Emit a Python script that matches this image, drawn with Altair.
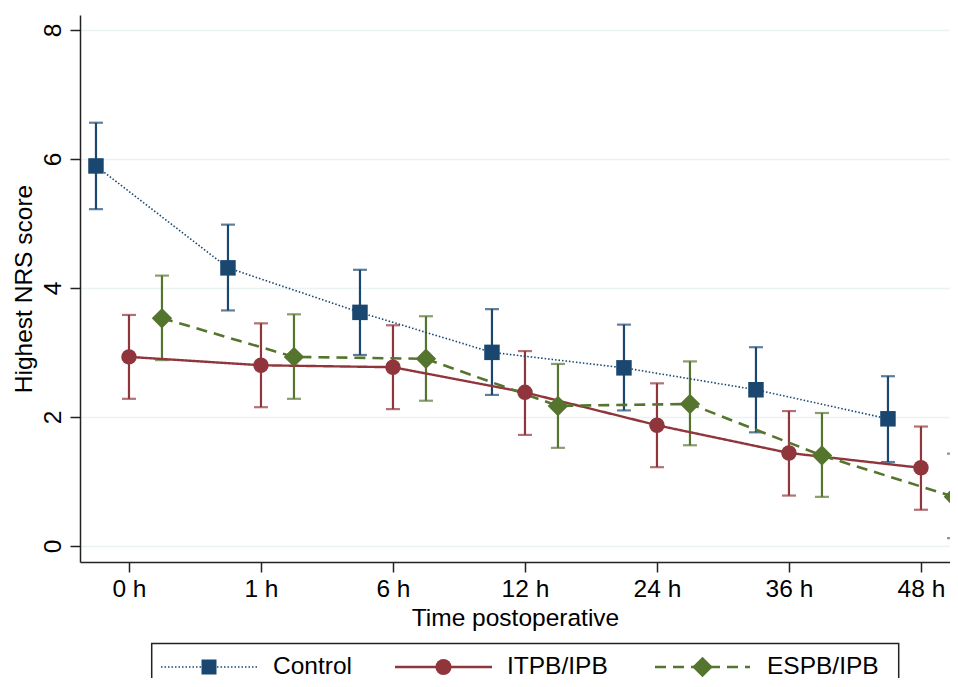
import altair as alt
import pandas as pd

# ---- data ----
times = ["0 h", "1 h", "6 h", "12 h", "24 h", "36 h", "48 h"]
series_names = ["Control", "ITPB/IPB", "ESPB/IPB"]

control_mean = [5.89, 4.31, 3.62, 3.00, 2.76, 2.42, 1.97]
control_lo = [5.22, 3.65, 2.96, 2.34, 2.10, 1.76, 1.30]
control_hi = [6.56, 4.98, 4.28, 3.67, 3.43, 3.08, 2.63]

itpb_mean = [2.93, 2.80, 2.77, 2.38, 1.87, 1.44, 1.21]
itpb_lo = [2.28, 2.15, 2.12, 1.72, 1.22, 0.78, 0.56]
itpb_hi = [3.58, 3.45, 3.42, 3.02, 2.52, 2.09, 1.85]

espb_mean = [3.53, 2.93, 2.90, 2.17, 2.20, 1.40, 0.76]
espb_lo = [2.88, 2.28, 2.25, 1.52, 1.56, 0.76, 0.12]
espb_hi = [4.19, 3.59, 3.56, 2.82, 2.86, 2.06, 1.43]

# ---- styles ----
colors = ["#1a476f", "#90353b", "#55752f"]
shapes = ["square", "circle", "diamond"]
marker_sizes = [240, 240, 420]
dashes = [[1.5, 2], [1, 0], [11, 7]]
line_widths = [1.6, 2.4, 2.6]
dodge = [-0.25, 0.0, 0.25]
FONT = "Liberation Sans"
FS = 24.5

rows = []
for s, (name, m, lo, hi) in enumerate(zip(
        series_names,
        [control_mean, itpb_mean, espb_mean],
        [control_lo, itpb_lo, espb_lo],
        [control_hi, itpb_hi, espb_hi])):
    for i, t in enumerate(times):
        rows.append({"series": name, "time": t, "pos": i + dodge[s],
                     "mean": m[i], "lo": lo[i], "hi": hi[i]})
df = pd.DataFrame(rows)

W, H = 870, 547
label_expr = "[" + ",".join("'%s'" % t for t in times) + "][datum.value]"

x_enc = alt.X(
    "pos:Q",
    scale=alt.Scale(domain=[-0.371, 6.22], nice=False, zero=False),
    axis=alt.Axis(
        values=list(range(len(times))), labelExpr=label_expr,
        title="Time postoperative", grid=False,
        tickSize=10, tickWidth=1.5, tickColor="#222", domainColor="#222", domainWidth=1.5,
        labelFontSize=FS, labelFont=FONT, labelColor="#000", labelPadding=5,
        labelBaseline="top",
        titleFontSize=FS, titleFont=FONT, titleFontWeight="normal", titleColor="#000",
        titleY=63, titleBaseline="alphabetic", labelOverlap=False,
    ),
)
y_scale = alt.Scale(domain=[-0.25, 8.23], nice=False, zero=False)
y_axis = alt.Axis(
    values=[0, 2, 4, 6, 8], format="d", title="Highest NRS score",
    grid=True, gridColor="#eaf2f3", gridWidth=1.5,
    tickSize=10, tickWidth=1.5, tickColor="#222", domainColor="#222", domainWidth=1.5,
    labelFontSize=FS, labelFont=FONT, labelColor="#000", labelAngle=270,
    labelAlign="center", labelBaseline="alphabetic", labelPadding=10, labelOverlap=False,
    titleFontSize=FS, titleFont=FONT, titleFontWeight="normal", titleColor="#000",
    titleAngle=270, titleX=-56, titleY=H / 2, titleAlign="center", titleBaseline="middle",
)

color_enc = alt.Color("series:N", scale=alt.Scale(domain=series_names, range=colors), legend=None)
base = alt.Chart(df)

bars = base.mark_rule(strokeWidth=2.2).encode(
    x=x_enc, y=alt.Y("lo:Q", scale=y_scale, axis=y_axis), y2="hi:Q", color=color_enc)
cap_lo = base.mark_tick(orient="horizontal", size=14, thickness=2.2).encode(
    x=x_enc, y=alt.Y("lo:Q", scale=y_scale), color=color_enc)
cap_hi = base.mark_tick(orient="horizontal", size=14, thickness=2.2).encode(
    x=x_enc, y=alt.Y("hi:Q", scale=y_scale), color=color_enc)

layers = [bars, cap_lo, cap_hi]
for s, name in enumerate(series_names):
    layers.append(
        base.transform_filter(alt.datum.series == name)
        .mark_line(strokeDash=dashes[s], strokeWidth=line_widths[s], color=colors[s])
        .encode(x=x_enc, y=alt.Y("mean:Q", scale=y_scale), order="pos:Q")
    )
for s, name in enumerate(series_names):
    layers.append(
        base.transform_filter(alt.datum.series == name)
        .mark_point(shape=shapes[s], size=marker_sizes[s], filled=True, opacity=1, color=colors[s])
        .encode(x=x_enc, y=alt.Y("mean:Q", scale=y_scale))
    )

# ---- hand-drawn legend below the plot (pixel layout relative to plot area) ----
LEG_Y = 652
leg_line = [(81, 177), (315, 412), (575, 670)]
leg_text_x = [193, 427, 687]
leg_sizes = [225, 260, 420]
box = alt.Chart(pd.DataFrame({"series": ["box"]})).mark_rect(
    fill="white", fillOpacity=0, stroke="#222", strokeWidth=1.5).encode(
    x=alt.value(71.7), x2=alt.value(818.7), y=alt.value(628.5), y2=alt.value(700))
layers.append(box)
for s, name in enumerate(series_names):
    one = alt.Chart(pd.DataFrame({"series": [name]}))
    layers.append(one.mark_rule(strokeDash=dashes[s], strokeWidth=line_widths[s], color=colors[s]).encode(
        x=alt.value(leg_line[s][0]), x2=alt.value(leg_line[s][1]), y=alt.value(LEG_Y)))
    layers.append(one.mark_point(shape=shapes[s], filled=True, opacity=1, size=leg_sizes[s], color=colors[s]).encode(
        x=alt.value((leg_line[s][0] + leg_line[s][1]) / 2), y=alt.value(LEG_Y)))
    layers.append(one.mark_text(align="left", baseline="middle", font=FONT, fontSize=FS, color="#000").encode(
        x=alt.value(leg_text_x[s]), y=alt.value(LEG_Y), text="series:N"))

chart = alt.layer(*layers).properties(
    width=W, height=H,
    autosize=alt.AutoSizeParams(type="none"),
    padding={"left": 72, "top": 7, "right": 0, "bottom": 116},
    background="white",
).configure_view(strokeWidth=0)

chart.save("out.html", embed_options={"renderer": "svg", "actions": False})
